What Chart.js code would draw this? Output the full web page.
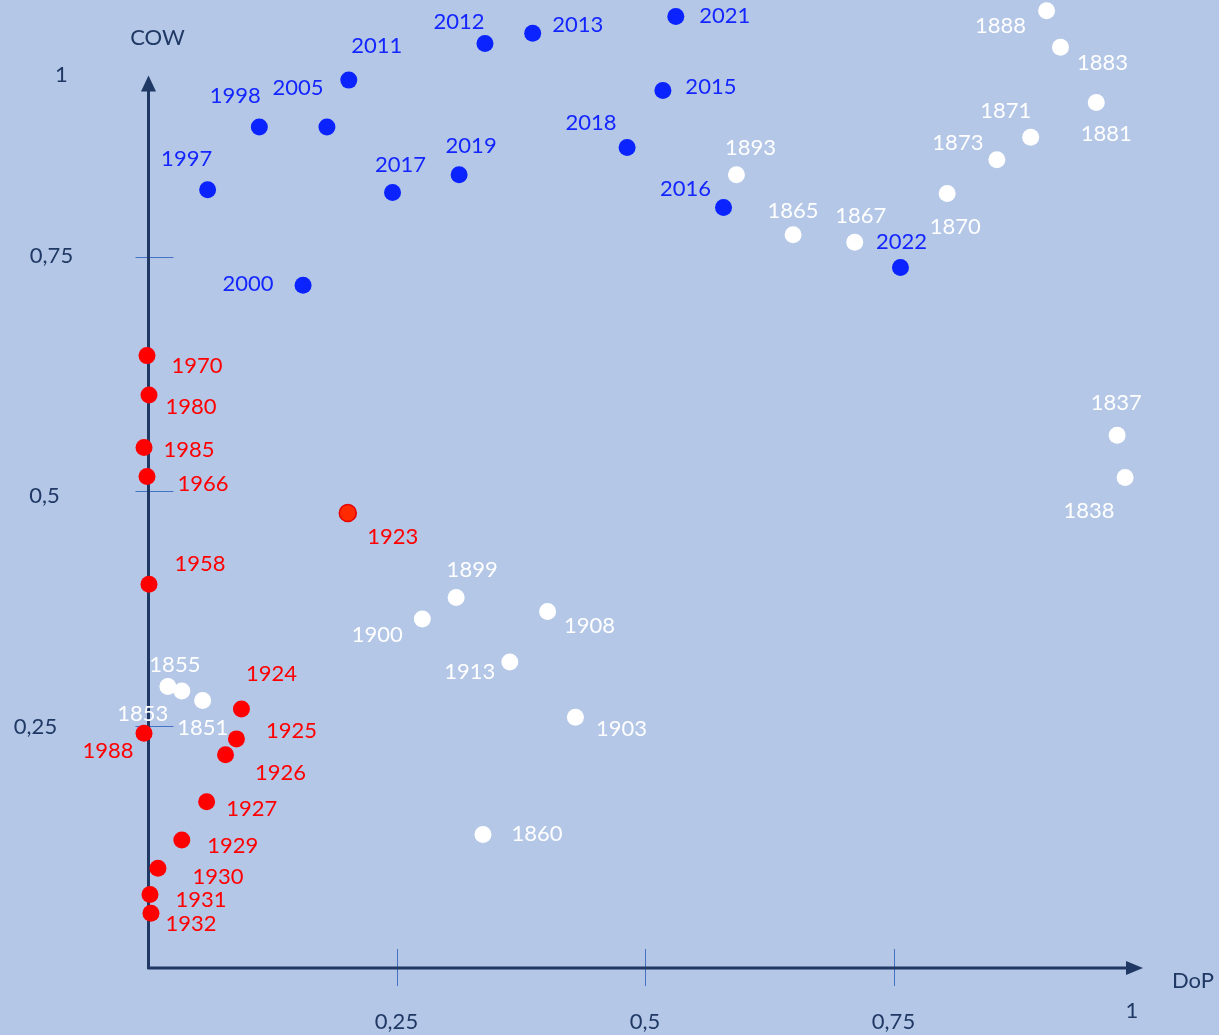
<!DOCTYPE html>
<html>
<head>
<meta charset="utf-8">
<title>DoP / COW</title>
<script src="https://cdn.jsdelivr.net/npm/chart.js@4/dist/chart.umd.min.js"></script>
<style>
  html, body { margin: 0; padding: 0; background: #b4c7e7; }
  canvas { display: block; }
</style>
</head>
<body>
<canvas id="chart" width="1219" height="1035"></canvas>
<script>
// blue series: 1997 - 2022
const blueYears = [1997, 1998, 2000, 2005, 2011, 2012, 2013, 2015, 2016, 2017, 2018, 2019, 2021, 2022];
const blueDoP   = [0.060, 0.112, 0.156, 0.180, 0.202, 0.339, 0.387, 0.518, 0.579, 0.246, 0.482, 0.313, 0.531, 0.757];
const blueCOW   = [0.822, 0.889, 0.720, 0.889, 0.939, 0.978, 0.989, 0.928, 0.803, 0.819, 0.867, 0.838, 1.007, 0.739];

// red series: 1923 - 1988
const redYears = [1923, 1924, 1925, 1926, 1927, 1929, 1930, 1931, 1932, 1958, 1966, 1970, 1980, 1985, 1988];
const redDoP   = [0.201, 0.094, 0.089, 0.078, 0.059, 0.034, 0.010, 0.002, 0.003, 0.001, -0.001, -0.001, 0.001, -0.004, -0.004];
const redCOW   = [0.477, 0.268, 0.236, 0.219, 0.169, 0.128, 0.098, 0.070, 0.050, 0.401, 0.516, 0.645, 0.603, 0.547, 0.242];

// white series: 1837 - 1913
const whiteYears = [1837, 1838, 1851, 1853, 1855, 1860, 1865, 1867, 1870, 1871, 1873, 1881, 1883, 1888, 1893, 1899, 1900, 1903, 1908, 1913];
const whiteDoP   = [0.975, 0.983, 0.055, 0.034, 0.020, 0.337, 0.649, 0.711, 0.804, 0.888, 0.854, 0.954, 0.918, 0.904, 0.592, 0.310, 0.276, 0.430, 0.402, 0.364];
const whiteCOW   = [0.560, 0.515, 0.277, 0.287, 0.292, 0.134, 0.774, 0.766, 0.818, 0.878, 0.854, 0.915, 0.974, 1.013, 0.838, 0.387, 0.364, 0.259, 0.372, 0.318];

// axis ticks
const xTicks = [0.25, 0.5, 0.75];
const xTickLabels = ["0,25", "0,5", "0,75"];
const yTicks = [0.25, 0.5, 0.75];
const yTickLabels = ["0,25", "0,5", "0,75"];
const endLabel = "1";
const xTitle = "DoP";
const yTitle = "COW";

// where each year label sits, relative to its dot (px)
const blueLabelPos = [[-21,-32],[-24,-32],[-55,-2],[-29,-40],[28,-35],[-26,-23],[45,-9],[48,-4],[-38,-20],[8,-29],[-36,-26],[12,-30],[49,-1],[1,-27]];
const redLabelPos = [[45,23],[30,-36],[55,-9],[55,17],[45,6],[51,5],[60,8],[51,5],[40,10],[51,-21],[56,6],[50,9],[42,11],[45,2],[-36,17]];
const whiteLabelPos = [[-1,-33],[-36,33],[0,27],[-39,22],[7,-22],[54,-1],[0,-25],[6,-27],[8,32],[-25,-27],[-39,-18],[10,30],[42,15],[-46,14],[14,-28],[16,-28],[-45,15],[46,11],[42,14],[-40,9]];

const BG = "#b4c7e7";
const NAVY = "#1f3864";
const TICK_BLUE = "#4472c4";
const FONT = "22px Lato, 'Open Sans', sans-serif";

function toPoints(xs, ys) {
  return xs.map((x, i) => ({ x: x, y: ys[i] }));
}

document.addEventListener("DOMContentLoaded", () => {
  const ctx = document.getElementById("chart").getContext("2d");

  const background = {
    id: "background",
    beforeDraw(chart) {
      const c = chart.ctx;
      c.save();
      c.fillStyle = BG;
      c.fillRect(0, 0, chart.width, chart.height);
      c.restore();
    }
  };

  // arrows, tick marks and tick texts
  const axes = {
    id: "axes",
    beforeDatasetsDraw(chart) {
      const c = chart.ctx;
      const xs = chart.scales.x;
      const ys = chart.scales.y;
      const x0 = xs.getPixelForValue(0) + 0.5;
      const y0 = chart.chartArea.bottom;
      const yTop = ys.getPixelForValue(0.944);
      const xEnd = xs.getPixelForValue(1.0);

      c.save();
      // tick marks
      c.strokeStyle = TICK_BLUE;
      c.lineWidth = 1;
      yTicks.forEach(v => {
        const py = Math.round(ys.getPixelForValue(v)) + 0.5;
        c.beginPath();
        c.moveTo(x0 - 13, py);
        c.lineTo(x0 + 25, py);
        c.stroke();
      });
      xTicks.forEach(v => {
        const px = Math.round(xs.getPixelForValue(v)) + 0.5;
        c.beginPath();
        c.moveTo(px, y0 - 19);
        c.lineTo(px, y0 + 18);
        c.stroke();
      });

      // axis lines
      c.strokeStyle = NAVY;
      c.fillStyle = NAVY;
      c.lineWidth = 3;
      c.beginPath();
      c.moveTo(x0, y0 + 1);
      c.lineTo(x0, yTop + 10);
      c.moveTo(x0 - 1, y0);
      c.lineTo(xEnd - 10, y0);
      c.stroke();

      c.beginPath();
      c.moveTo(x0, yTop);
      c.lineTo(x0 - 7.5, yTop + 16);
      c.lineTo(x0 + 7.5, yTop + 16);
      c.closePath();
      c.fill();

      c.beginPath();
      c.moveTo(xEnd + 1, y0);
      c.lineTo(xEnd - 16, y0 - 7);
      c.lineTo(xEnd - 16, y0 + 7);
      c.closePath();
      c.fill();

      // tick labels
      c.font = FONT;
      c.textAlign = "center";
      c.textBaseline = "alphabetic";
      xTicks.forEach((v, i) => {
        c.fillText(xTickLabels[i], xs.getPixelForValue(v), y0 + 61);
      });
      c.fillText(endLabel, xEnd - 10, y0 + 50);

      const yLabelDx = [-113, -104, -97];
      const yLabelDy = [0, 4, -2];
      yTicks.forEach((v, i) => {
        c.fillText(yTickLabels[i], x0 + yLabelDx[i], ys.getPixelForValue(v) + 8 + yLabelDy[i]);
      });
      c.fillText(endLabel, x0 - 87, yTop + 7);

      // axis titles
      c.fillText(yTitle, x0 + 9, yTop - 30);
      c.fillText(xTitle, xEnd + 51, y0 + 20);
      c.restore();
    }
  };

  // year next to every dot
  const yearLabels = {
    id: "yearLabels",
    afterDatasetsDraw(chart) {
      const c = chart.ctx;
      c.save();
      c.font = FONT;
      c.textAlign = "center";
      c.textBaseline = "alphabetic";
      chart.data.datasets.forEach((ds, di) => {
        const meta = chart.getDatasetMeta(di);
        c.fillStyle = ds.labelColor;
        meta.data.forEach((pt, i) => {
          const off = ds.labelPos[i];
          c.fillText(String(ds.years[i]), pt.x + off[0], pt.y + off[1] + 8);
        });
      });
      c.restore();
    }
  };

  new Chart(ctx, {
    type: "scatter",
    data: {
      datasets: [
        {
          label: "white",
          data: toPoints(whiteDoP, whiteCOW),
          years: whiteYears,
          labelPos: whiteLabelPos,
          labelColor: "#ffffff",
          backgroundColor: "#ffffff",
          borderWidth: 0,
          pointRadius: 8.5,
          clip: false
        },
        {
          label: "blue",
          data: toPoints(blueDoP, blueCOW),
          years: blueYears,
          labelPos: blueLabelPos,
          labelColor: "#1426ff",
          backgroundColor: "#0a23ff",
          borderWidth: 0,
          pointRadius: 8.5,
          clip: false
        },
        {
          label: "red",
          data: toPoints(redDoP, redCOW),
          years: redYears,
          labelPos: redLabelPos,
          labelColor: "#ff0000",
          backgroundColor: c => (redYears[c.dataIndex] === 1923 ? "#ff2a00" : "#ff0000"),
          borderColor: "#e60000",
          borderWidth: c => (redYears[c.dataIndex] === 1923 ? 1.5 : 0),
          pointRadius: 8.5,
          clip: false
        }
      ]
    },
    options: {
      responsive: false,
      animation: false,
      devicePixelRatio: 1,
      layout: { autoPadding: false, padding: { left: 148, right: 77, top: 0, bottom: 67 } },
      plugins: {
        legend: { display: false },
        tooltip: { enabled: false }
      },
      scales: {
        x: { type: "linear", min: 0, max: 1, display: false },
        y: { type: "linear", min: -0.0085, max: 1.0245, display: false }
      }
    },
    plugins: [background, axes, yearLabels]
  });
});
</script>
</body>
</html>
